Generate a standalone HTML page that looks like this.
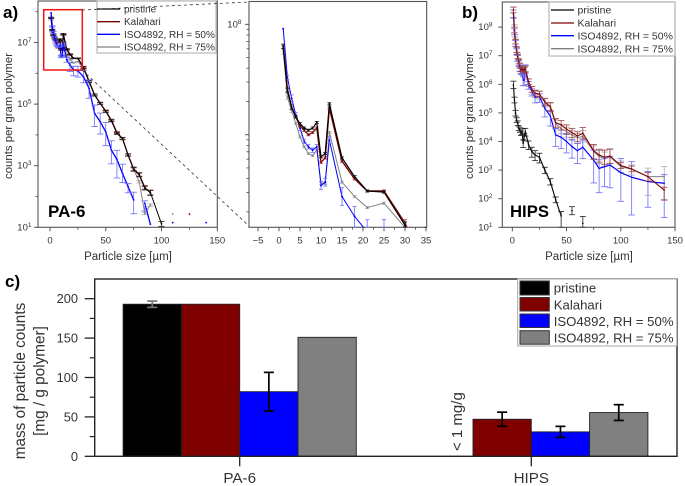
<!DOCTYPE html>
<html lang="en">
<head>
<meta charset="utf-8">
<title>Particle counts and mass charts</title>
<style>
html,body{margin:0;padding:0;background:#fff;width:685px;height:486px;overflow:hidden}
svg{display:block;font-family:"Liberation Sans",sans-serif;filter:blur(.25px)}
text{fill:#333}
.bold{font-weight:bold;fill:#000}
</style>
</head>
<body>
<svg id="chart" xmlns="http://www.w3.org/2000/svg" width="685" height="486" viewBox="0 0 685 486">
<defs>
<clipPath id="clip-a"><rect x="38" y="1" width="179.5" height="226.5"/></clipPath>
<clipPath id="clip-i"><rect x="249" y="1.5" width="178" height="226"/></clipPath>
<clipPath id="clip-b"><rect x="502" y="2" width="173" height="225.5"/></clipPath>
</defs>
<g id="layer-a"></g>
<g id="layer-i"></g>
<g id="layer-b"></g>
<g id="layer-c"></g>

<g>
<rect x="97" y="1" width="119" height="52" fill="#fff" stroke="#aaa"/>
<line x1="97" x2="120" y1="9" y2="9" stroke="#000" stroke-width="1.3"/>
<text x="124" y="12.5" font-size="10">pristine</text>
<line x1="97" x2="120" y1="21.7" y2="21.7" stroke="#800000" stroke-width="1.3"/>
<text x="124" y="25.2" font-size="10">Kalahari</text>
<line x1="97" x2="120" y1="34.3" y2="34.3" stroke="#0000ff" stroke-width="1.3"/>
<text x="124" y="37.8" font-size="10">ISO4892, RH = 50%</text>
<line x1="97" x2="120" y1="47" y2="47" stroke="#808080" stroke-width="1.3"/>
<text x="124" y="50.5" font-size="10">ISO4892, RH = 75%</text>
</g>

<g>
<rect x="549" y="2" width="126" height="54" fill="#fff" stroke="#aaa"/>
<line x1="551" x2="574" y1="10" y2="10" stroke="#000" stroke-width="1.3"/>
<text x="577.5" y="13.7" font-size="10.5">pristine</text>
<line x1="551" x2="574" y1="23" y2="23" stroke="#800000" stroke-width="1.3"/>
<text x="577.5" y="26.7" font-size="10.5">Kalahari</text>
<line x1="551" x2="574" y1="35.7" y2="35.7" stroke="#0000ff" stroke-width="1.3"/>
<text x="577.5" y="39.4" font-size="10.5">ISO4892, RH = 50%</text>
<line x1="551" x2="574" y1="48.7" y2="48.7" stroke="#808080" stroke-width="1.3"/>
<text x="577.5" y="52.4" font-size="10.5">ISO4892, RH = 75%</text>
</g>

<rect x="43.7" y="9.7" width="38.6" height="60.3" fill="none" stroke="#f01414" stroke-width="1.5"/>
<line x1="82" y1="10" x2="249" y2="2" stroke="#333" stroke-width=".8" stroke-dasharray="3 3"/>
<line x1="82" y1="70" x2="249" y2="226" stroke="#333" stroke-width=".8" stroke-dasharray="3 3"/>

<text class="bold" x="3" y="18" font-size="17">a)</text>
<text class="bold" x="462" y="18" font-size="17">b)</text>
<text class="bold" x="5" y="287" font-size="17">c)</text>
<text class="bold" x="48" y="217" font-size="17">PA-6</text>
<text class="bold" x="510" y="217" font-size="16.7">HIPS</text>

<text x="128" y="260" font-size="11.5" text-anchor="middle">Particle size [µm]</text>
<text x="589" y="260" font-size="11.5" text-anchor="middle">Particle size [µm]</text>
<text transform="translate(12 116) rotate(-90)" font-size="11.4" text-anchor="middle">counts per gram polymer</text>
<text transform="translate(473 116) rotate(-90)" font-size="11.4" text-anchor="middle">counts per gram polymer</text>
<text transform="translate(25 381) rotate(-90)" font-size="15.3" text-anchor="middle">mass of particle counts</text>
<text transform="translate(44.5 381) rotate(-90)" font-size="15.3" text-anchor="middle">[mg / g polymer]</text>
<text transform="translate(462 451) rotate(-90)" font-size="15">&lt; 1 mg/g</text>

<g>
<rect x="517.7" y="279" width="159" height="67" fill="#fff" stroke="#aaa"/>
<rect x="520" y="281" width="29.3" height="14" fill="#000" stroke="#333"/>
<text x="553.7" y="292.7" font-size="13.2">pristine</text>
<rect x="520" y="297.5" width="29.3" height="13.5" fill="#800000" stroke="#333"/>
<text x="553.7" y="309.3" font-size="13.2">Kalahari</text>
<rect x="520" y="314" width="29.3" height="13.5" fill="#0000ff" stroke="#333"/>
<text x="553.7" y="325.9" font-size="13.2">ISO4892, RH = 50%</text>
<rect x="520" y="330.7" width="29.3" height="13.5" fill="#808080" stroke="#333"/>
<text x="553.7" y="342.4" font-size="13.2">ISO4892, RH = 75%</text>
</g>
</svg>

<script>
// All count values are log10(counts per gram polymer); null = no point.
const paSizes = [1,2,3,4,5,6,7,8,9,10,11,12,15,18,21,25,30,35,40,45,50,55,60,65,70,75,80,85,90,100,110,125,140];
const paPristine = [7.80,7.40,7.25,7.16,7.10,7.06,7.04,7.06,7.11,6.80,6.83,7.28,6.79,6.62,6.49,6.48,6.18,5.73,5.30,5.03,4.76,4.46,4.05,3.89,3.35,2.88,2.70,2.27,2.13,1.11,null,null,null];
const paKalahari = [7.80,7.41,7.25,7.16,7.08,7.04,7.00,7.02,7.06,6.75,6.79,7.24,6.76,6.60,6.49,6.49,6.20,5.75,5.30,5.02,4.78,4.48,4.08,3.88,3.35,2.90,2.72,2.30,2.11,null,null,1.43,null];
const paRh50 = [7.96,7.52,7.33,7.18,7.06,6.94,6.89,6.86,6.89,6.54,6.57,6.95,6.44,6.26,6.12,6.08,5.89,5.51,4.70,4.43,4.10,3.51,3.20,2.75,2.32,1.89,null,1.78,1.10,null,1.15,null,1.15];
const paRh75 = [7.77,7.34,7.22,7.10,6.98,6.89,6.83,6.81,6.86,6.56,6.56,7.02,6.57,6.44,6.34,6.38,6.16,5.72,5.28,5.02,4.77,4.46,4.05,3.87,3.34,2.88,2.48,1.45,1.72,null,1.43,null,null];
const paPristineErr = [.02,.02,.02,.01,.01,.01,.01,.01,.01,.01,.01,.01,.01,.01,.01,.01,.03,.03,.03,.03,.03,.03,.03,.03,.03,.06,.06,.06,.08,.08,0,0,0];
const paKalahariErr = [.02,.02,.02,.01,.01,.01,.01,.01,.01,.01,.01,.01,.01,.01,.01,.01,.03,.03,.03,.03,.03,.03,.03,.03,.04,.06,.06,.06,.08,0,0,0,0];
const paRh50Up = [0,.02,.03,.02,.02,.02,.02,.02,.02,.035,.035,.03,.08,.09,.11,.15,.2,.27,.27,.28,.3,.3,.3,.3,.1,.25,0,.08,0,0,0,0,0];
const paRh50Down = [0,.02,.03,.02,.02,.02,.02,.02,.02,.035,.035,.03,.08,.2,.2,.2,.2,.32,.43,.4,.45,.45,.6,.3,.2,.45,0,.25,0,0,0,0,0];
const paRh75Err = [.04,.02,.02,.01,.01,.01,.01,.01,.01,.01,.01,.01,.01,.01,.01,.01,.04,.04,.04,.04,.04,.04,.04,.04,.04,.04,.04,.04,.04,0,0,0,0];

const hipsSizes = [1,2,3,4,5,6,7,8,9,10,11,12,15,18,21,25,30,35,40,45,50,55,60,65,75,80,85,90,100,110,125,140];
const hipsPristine = [5.98,5.45,4.99,4.75,4.64,4.46,4.40,4.29,4.34,3.94,4.17,4.34,3.88,3.65,3.53,3.45,3.00,2.60,1.96,1.40,null,1.58,null,1.14,null,null,null,null,null,null,null,null];
const hipsKalahari = [8.60,7.90,7.49,7.20,6.97,6.79,6.64,6.52,6.52,6.50,6.50,6.54,6.09,5.82,5.69,5.66,5.39,5.22,4.66,4.58,4.43,4.31,4.19,4.29,3.68,3.53,3.45,3.49,3.16,3.04,2.77,2.30];
const hipsRh50 = [8.48,7.84,7.43,7.14,6.91,6.73,6.56,6.48,6.44,6.15,6.15,6.56,5.98,5.74,5.55,5.57,5.16,4.89,4.23,4.15,4.00,3.82,3.68,3.80,3.35,3.06,3.12,3.18,2.91,2.75,2.60,2.54];
const hipsRh75 = [8.50,7.88,7.47,7.17,6.95,6.76,6.60,6.50,6.48,6.45,6.47,6.52,6.07,5.80,5.68,5.64,5.37,5.20,4.62,4.45,4.35,4.23,4.13,4.18,3.65,3.48,3.38,3.47,3.12,3.03,2.77,2.77];
const hipsPristineUp = [.13,.1,.1,.08,.08,.08,.08,.08,.1,.12,.12,.12,.14,.15,.15,.14,.1,.1,.1,.15,0,.14,0,.24,0,0,0,0,0,0,0,0];
const hipsPristineDown = [.13,.1,.1,.08,.08,.08,.08,.08,.1,.15,.15,.15,.16,.2,.2,.2,.12,.12,.1,.4,0,.14,0,.2,0,0,0,0,0,0,0,0];
const hipsKalahariUp = [.1,.1,.08,.08,.08,.08,.08,.08,.08,.08,.08,.1,.1,.1,.1,.1,.12,.14,.14,.15,.15,.15,.15,.2,.22,.2,.25,.25,.1,.1,.15,.1];
const hipsKalahariDown = [.1,.1,.08,.08,.08,.08,.08,.08,.08,.1,.1,.1,.1,.1,.1,.1,.14,.16,.16,.18,.18,.18,.2,.2,.3,.25,.25,.25,.1,.1,.15,.35];
const hipsRh50Up = [.12,.1,.1,.1,.1,.1,.1,.1,.1,.15,.15,.12,.12,.1,.1,.1,.15,.2,.22,.25,.28,.25,.25,.25,.35,.3,.3,.3,.5,.55,.35,.3];
const hipsRh50Down = [.14,.1,.1,.1,.1,.1,.1,.1,.1,.2,.2,.15,.15,.15,.2,.2,.3,.35,.4,.4,.4,.4,.45,.4,.8,.85,.7,.8,1.0,1.32,.9,1.2];
const hipsRh75Up = [.2,.2,.15,.15,.15,.15,.15,.15,.15,.15,.15,.15,.12,.12,.12,.12,.14,.14,.14,.15,.15,.15,.15,.2,.2,.2,.25,.25,.2,.15,.3,.35];
const hipsRh75Down = [.2,.2,.15,.15,.15,.15,.15,.15,.15,.2,.2,.15,.15,.15,.15,.15,.16,.16,.16,.18,.2,.2,.2,.2,.25,.25,.25,.25,.2,.2,.65,.8];

const paXTicks = [0,50,100,150];
const paYMajor = [1,3,5,7];
const paYMinor = [2,4,6,8];
const insetXTicks = [-5,0,5,10,15,20,25,30,35];
const insetYDecades = [7,8];
const hipsXTicks = [0,50,100,150];
const hipsYMajor = [1,2,3,4,5,6,7,8];

const massCategories = ['PA-6','HIPS'];
const massSeries = ['pristine','kalahari','rh50','rh75'];
const massPa6 = [193,193,82,151];
const massPa6Err = [4,0,24.5,0];
const massHips = [null,47,31,55.5];
const massHipsErr = [0,9,7,10];
const massYTicks = [0,50,100,150,200];
const massYMinor = [25,75,125,175];

const SVGNS = 'http://www.w3.org/2000/svg';
const COLORS = {pristine:'#000000',kalahari:'#800000',rh50:'#0000ff',rh75:'#808080'};
const ERRCOLORS = {pristine:'#222222',kalahari:'#a04040',rh50:'#6a6aff',rh75:'#a8a8a8'};

function lineEl(parent,x1,y1,x2,y2,stroke,width){
  const el = document.createElementNS(SVGNS,'line');
  el.setAttribute('x1',x1);el.setAttribute('y1',y1);el.setAttribute('x2',x2);el.setAttribute('y2',y2);
  el.setAttribute('stroke',stroke);el.setAttribute('stroke-width',width);
  
  
  parent.appendChild(el);
  return el;
}
function textEl(parent,x,y,str,size,anchor){
  const el = document.createElementNS(SVGNS,'text');
  el.setAttribute('x',x);el.setAttribute('y',y);el.setAttribute('font-size',size);el.setAttribute('text-anchor',anchor);
  el.textContent = str;
  
  
  parent.appendChild(el);
  return el;
}
function logLabel(parent,xRight,y,exp){
  const el = document.createElementNS(SVGNS,'text');
  el.setAttribute('x',xRight);el.setAttribute('y',y+3);el.setAttribute('font-size',9.5);el.setAttribute('text-anchor','end');
  el.textContent = '10';
  const sup = document.createElementNS(SVGNS,'tspan');
  sup.setAttribute('dy',-3.5);sup.setAttribute('font-size',6.5);
  sup.textContent = String(exp);
  el.appendChild(sup);
  
  
  parent.appendChild(el);
}
function frame(parent,b){
  const el = document.createElementNS(SVGNS,'rect');
  el.setAttribute('x',b.l);el.setAttribute('y',b.t);el.setAttribute('width',b.r-b.l);el.setAttribute('height',b.b-b.t);
  el.setAttribute('fill','none');el.setAttribute('stroke','#555');el.setAttribute('stroke-width',1.1);
  
  
  parent.appendChild(el);
}
function drawSeries(parent,clip,key,xs,ys,up,down,sx,sy,cap,lw,opts){
  const g = document.createElementNS(SVGNS,'g');
  g.setAttribute('clip-path','url(#'+clip+')');
  
  
  parent.appendChild(g);
  let seg = [];
  const flush = function(){
    if(seg.length>1){
      const pl = document.createElementNS(SVGNS,'polyline');
      pl.setAttribute('points',seg.join(' '));
      pl.setAttribute('fill','none');pl.setAttribute('stroke',COLORS[key]);pl.setAttribute('stroke-width',lw);
      pl.setAttribute('stroke-linejoin','round');
      
      
      g.appendChild(pl);
    }
    seg = [];
  };
  ys.forEach(function(v,i){
    if(v===null){flush();return;}
    seg.push(sx(xs[i]).toFixed(2)+','+sy(v).toFixed(2));
  });
  flush();
  ys.forEach(function(v,i){
    if(v===null) return;
    const px = sx(xs[i]), py = sy(v);
    const u = up[i], d = down[i];
    if(u>0||d>0){
      const top = sy(v+u), bot = Math.min(sy(v-d),opts.floor);
      const errColor = ERRCOLORS[key];
      const w = .8;
      const stem = lineEl(g,px,top,px,bot,errColor,w);
      
      const c1 = lineEl(g,px-cap,top,px+cap,top,errColor,w);
      
      const c2 = lineEl(g,px-cap,bot,px+cap,bot,errColor,w);
      
    }
    const dot = document.createElementNS(SVGNS,'circle');
    dot.setAttribute('cx',px);dot.setAttribute('cy',py);dot.setAttribute('r',opts.r);
    dot.setAttribute('fill',COLORS[key]);
    
    
    g.appendChild(dot);
  });
}

/* panel a */
(function(){
  const p = document.getElementById('layer-a');
  const box = {l:38,r:217.3,t:1,b:227.3};
  const sx = function(v){return 50+v*1.1153;};
  const sy = function(v){return 227.3-(v-1)*30.8;};
  frame(p,box);
  paXTicks.forEach(function(t){
    lineEl(p,sx(t),box.b,sx(t),box.b+4,'#444',.9);
    textEl(p,sx(t),box.b+16,String(t),9.5,'middle');
    if(t<150) lineEl(p,sx(t+25),box.b,sx(t+25),box.b+2.5,'#444',.8);
  });
  paYMajor.forEach(function(t){
    lineEl(p,box.l-4,sy(t),box.l,sy(t),'#444',.9);
    logLabel(p,31.5,sy(t),t);
  });
  paYMinor.forEach(function(t){
    if(sy(t)>box.t) lineEl(p,box.l-2.5,sy(t),box.l,sy(t),'#444',.8);
  });
  const o = {r:.9,floor:box.b};
  drawSeries(p,'clip-a','rh75',paSizes,paRh75,paRh75Err,paRh75Err,sx,sy,3,1,o);
  drawSeries(p,'clip-a','kalahari',paSizes,paKalahari,paKalahariErr,paKalahariErr,sx,sy,3,1.2,o);
  drawSeries(p,'clip-a','pristine',paSizes,paPristine,paPristineErr,paPristineErr,sx,sy,3,1,o);
  drawSeries(p,'clip-a','rh50',paSizes,paRh50,paRh50Up,paRh50Down,sx,sy,3.3,1.3,o);
})();

/* zoomed inset: only the particle sizes up to 35 um fall inside this axis range */
(function(){
  const p = document.getElementById('layer-i');
  const box = {l:249,r:426.7,t:1.5,b:227.3};
  const sx = function(v){return 279+v*4.2;};
  const sy = function(v){return 134.7-(v-7)*110.4;};
  const upTo35 = function(arr){return arr.filter(function(_,i){return paSizes[i]<=35;});};
  frame(p,box);
  insetXTicks.forEach(function(t){
    lineEl(p,sx(t),box.b,sx(t),box.b+4,'#444',.9);
    textEl(p,sx(t),box.b+16,t<0?'\u2212'+(-t):String(t),9.5,'middle');
    if(t<35) lineEl(p,sx(t+2.5),box.b,sx(t+2.5),box.b+2.5,'#444',.8);
  });
  insetYDecades.forEach(function(d){
    lineEl(p,box.l-4,sy(d),box.l,sy(d),'#444',.9);
    [2,3,4,5,6,7,8,9].forEach(function(m){
      const v = d-1+Math.log10(m);
      if(sy(v)<box.b&&sy(v)>box.t) lineEl(p,box.l-2.5,sy(v),box.l,sy(v),'#444',.8);
    });
  });
  logLabel(p,241.5,sy(8),8);
  const o = {r:1,floor:box.b};
  const xs = upTo35(paSizes);
  drawSeries(p,'clip-i','rh75',xs,upTo35(paRh75),upTo35(paRh75Err),upTo35(paRh75Err),sx,sy,2,1,o);
  drawSeries(p,'clip-i','rh50',xs,upTo35(paRh50),upTo35(paRh50Up),upTo35(paRh50Down),sx,sy,2,1,o);
  drawSeries(p,'clip-i','kalahari',xs,upTo35(paKalahari),upTo35(paKalahariErr),upTo35(paKalahariErr),sx,sy,2,1.4,o);
  drawSeries(p,'clip-i','pristine',xs,upTo35(paPristine),upTo35(paPristineErr),upTo35(paPristineErr),sx,sy,2,1.2,o);
})();

/* panel b */
(function(){
  const p = document.getElementById('layer-b');
  const box = {l:502.3,r:675,t:2,b:227.3};
  const sx = function(v){return 512.3+v*1.085;};
  const sy = function(v){return 227.3-(v-1)*28.6;};
  frame(p,box);
  hipsXTicks.forEach(function(t){
    lineEl(p,sx(t),box.b,sx(t),box.b+4,'#444',.9);
    textEl(p,sx(t),box.b+16,String(t),9.5,'middle');
    if(t<150) lineEl(p,sx(t+25),box.b,sx(t+25),box.b+2.5,'#444',.8);
  });
  hipsYMajor.forEach(function(t){
    lineEl(p,box.l-4,sy(t),box.l,sy(t),'#444',.9);
    logLabel(p,492.5,sy(t),t);
  });
  const o = {r:.8,floor:box.b};
  drawSeries(p,'clip-b','pristine',hipsSizes,hipsPristine,hipsPristineUp,hipsPristineDown,sx,sy,3,1.1,o);
  drawSeries(p,'clip-b','rh75',hipsSizes,hipsRh75,hipsRh75Up,hipsRh75Down,sx,sy,3.3,1,o);
  drawSeries(p,'clip-b','rh50',hipsSizes,hipsRh50,hipsRh50Up,hipsRh50Down,sx,sy,3.3,1.2,o);
  drawSeries(p,'clip-b','kalahari',hipsSizes,hipsKalahari,hipsKalahariUp,hipsKalahariDown,sx,sy,3.3,1.1,o);
})();

/* panel c */
(function(){
  const p = document.getElementById('layer-c');
  const L=94.7,R=677,T=279,B=456.3;
  const sy = function(v){return B-v*0.788;};
  const centers = [239.7,531.3];
  const barW = 58.3;
  const groups = [[massPa6,massPa6Err],[massHips,massHipsErr]];
  groups.forEach(function(gr,gi){
    gr[0].forEach(function(v,i){
      if(v===null) return;
      const x = centers[gi]+(i-2)*barW;
      const key = massSeries[i];
      const bar = document.createElementNS(SVGNS,'rect');
      bar.setAttribute('x',x);bar.setAttribute('y',sy(v));bar.setAttribute('width',barW);bar.setAttribute('height',B-sy(v));
      bar.setAttribute('fill',COLORS[key]);bar.setAttribute('stroke','#222');bar.setAttribute('stroke-width',.9);
      
      
      p.appendChild(bar);
    });
  });
  groups.forEach(function(gr,gi){
    gr[1].forEach(function(e,i){
      if(!e) return;
      const cx = centers[gi]+(i-1.5)*barW, v = gr[0][i];
      const col = (gi===0&&i===0)?'#777':'#000';
      const s = lineEl(p,cx,sy(v+e),cx,sy(v-e),col,1.7);
      
      const a = lineEl(p,cx-5,sy(v+e),cx+5,sy(v+e),col,1.7);
      
      const b = lineEl(p,cx-5,sy(v-e),cx+5,sy(v-e),col,1.7);
      
    });
  });
  const fr = document.createElementNS(SVGNS,'rect');
  fr.setAttribute('x',L);fr.setAttribute('y',T);fr.setAttribute('width',R-L);fr.setAttribute('height',B-T);
  fr.setAttribute('fill','none');fr.setAttribute('stroke','#222');fr.setAttribute('stroke-width',1.4);
  
  
  p.appendChild(fr);
  massYTicks.forEach(function(t){
    lineEl(p,L-10,sy(t),L,sy(t),'#222',1.3);
    textEl(p,78,sy(t)+4.5,String(t),12.8,'end');
  });
  massYMinor.forEach(function(t){
    lineEl(p,L-5,sy(t),L,sy(t),'#222',1.2);
  });
  massCategories.forEach(function(c,i){
    lineEl(p,centers[i],B,centers[i],B+10,'#222',1.3);
    const lab = textEl(p,centers[i],483,c,15.2,'middle');
    
  });
})();
</script>
</body>
</html>
